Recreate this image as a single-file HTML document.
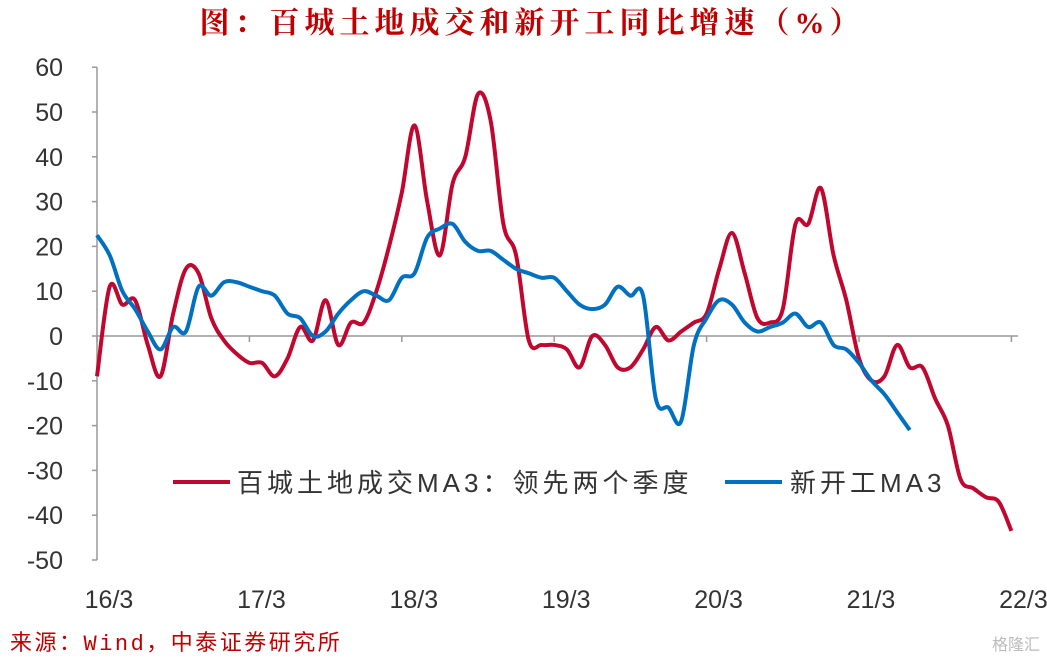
<!DOCTYPE html>
<html><head><meta charset="utf-8">
<style>
body{margin:0;background:#fff;width:1047px;height:661px;overflow:hidden;font-family:"Liberation Sans","Noto Sans CJK SC",sans-serif}
</style></head><body>
<svg width="1047" height="661" viewBox="0 0 1047 661">
<text x="532" y="33" text-anchor="middle" font-size="30" font-weight="bold" letter-spacing="5" fill="#c00000" font-family="'Liberation Serif','Noto Serif CJK SC',serif">图：百城土地成交和新开工同比增速（%）</text>
<g id="yaxis"></g>
<g id="xaxis"></g>
<g id="series"></g>
<g>
<line x1="173" y1="482" x2="230" y2="482" stroke="#c0072f" stroke-width="4"/>
<text x="237" y="492" font-size="26" letter-spacing="4" fill="#333">百城土地成交MA3：领先两个季度</text>
<line x1="725" y1="482" x2="782" y2="482" stroke="#0070c0" stroke-width="4"/>
<text x="790" y="492" font-size="26" letter-spacing="4" fill="#333">新开工MA3</text>
</g>
<text x="10" y="650" font-size="22" letter-spacing="2.5" fill="#c00000" font-family="'Liberation Mono','Noto Sans CJK SC',monospace">来源：Wind，中泰证券研究所</text>
<text x="1040" y="650" text-anchor="end" font-size="16" fill="#bbb">格隆汇</text>
</svg>
<script>
const yTicks=[60,50,40,30,20,10,0,-10,-20,-30,-40,-50];
const xLabels=["16/3","17/3","18/3","19/3","20/3","21/3","22/3"];
const landMA3=[-9,11,7,8,-2,-9,5,15,14,4,-1,-4,-6,-6,-9,-5,2,-1,8,-2,3,3,10,20,32,47,30,18,34,40,54,48,25,18,-1,-2,-2,-3,-7,0,-2,-7,-7,-3,2,-1,1,3,5,15,23,14,4,3,6,25,25,33,18,8,-5,-10,-9,-2,-7,-7,-14,-20,-32,-34,-36,-37,-43.5];
const startsMA3=[22.5,18,10,6,1,-3,2,1,11,9,12,12,11,10,9,5,4,0,1,5,8,10,9,8,13,14,22,24,25,21,19,19,17,15,14,13,13,10,7,6,7,11,9,9,-14,-16,-19,-2,4,8,7,3,1,2,3,5,2,3,-2,-3,-6,-10,-13,-17,-21];
const NS="http://www.w3.org/2000/svg";
const x0=97,mw=12.7,y0=336,yu=4.48;
const X=i=>x0+i*mw, Y=v=>y0-v*yu;
function el(t,a,p){const e=document.createElementNS(NS,t);for(const k in a)e.setAttribute(k,a[k]);p.appendChild(e);return e;}
const ya=document.getElementById('yaxis'),xa=document.getElementById('xaxis'),se=document.getElementById('series');
const ay=el('line',{x1:x0,y1:Y(60),x2:x0,y2:Y(-50),stroke:'#999','stroke-width':1.5},ya);


yTicks.forEach(v=>{
 const t=el('text',{x:63,y:Y(v)+9,'text-anchor':'end','font-size':25,fill:'#333'},ya);t.textContent=v;
 
 
 el('line',{x1:x0-5,y1:Y(v),x2:x0,y2:Y(v),stroke:'#999','stroke-width':1.5},ya);
});
const ax=el('line',{x1:x0,y1:y0,x2:1018,y2:y0,stroke:'#999','stroke-width':1.5},xa);


xLabels.forEach((l,k)=>{
 const x=X(k*12);
 el('line',{x1:x,y1:y0,x2:x,y2:y0+6,stroke:'#999','stroke-width':1.5},xa);
 const t=el('text',{x:x+12,y:608,'text-anchor':'middle','font-size':25,fill:'#333'},xa);t.textContent=l;
 
 
});
function path(d){const p=d.map((v,i)=>[X(i),Y(v)]);let s=`M${p[0][0]},${p[0][1]}`;
 for(let i=0;i<p.length-1;i++){const a=p[i-1]||p[i],b=p[i],c=p[i+1],e=p[i+2]||c;
 s+=` C${b[0]+(c[0]-a[0])/6},${b[1]+(c[1]-a[1])/6} ${c[0]-(e[0]-b[0])/6},${c[1]-(e[1]-b[1])/6} ${c[0]},${c[1]}`;}return s;}
const pr=el('path',{d:path(landMA3),fill:'none',stroke:'#c0072f','stroke-width':4,'stroke-linejoin':'round'},se);


const pb=el('path',{d:path(startsMA3),fill:'none',stroke:'#0070c0','stroke-width':4,'stroke-linejoin':'round'},se);


</script>
</body></html>
